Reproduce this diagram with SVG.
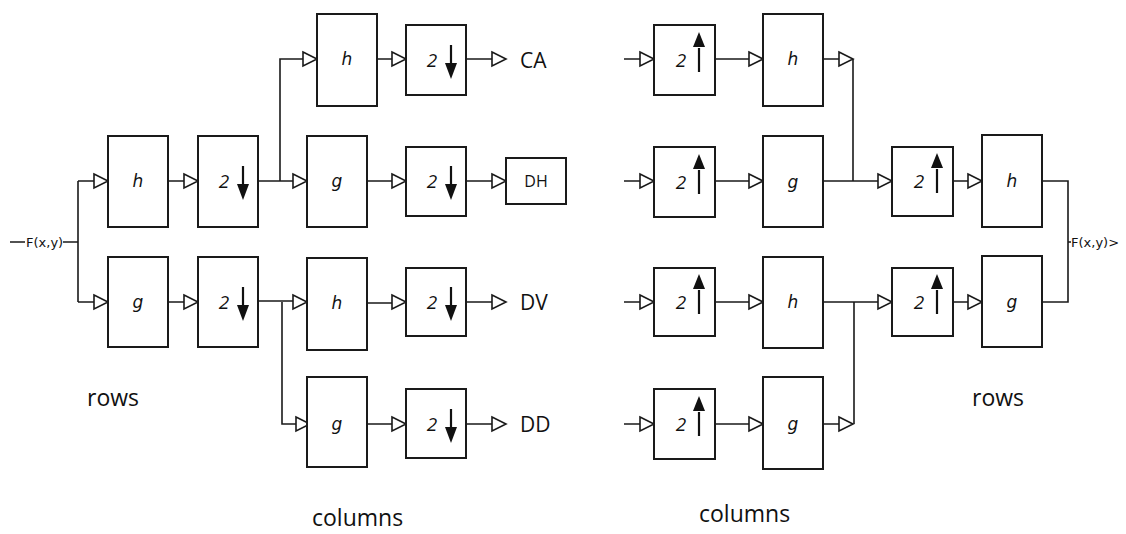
<svg xmlns="http://www.w3.org/2000/svg" width="1126" height="534" viewBox="0 0 1126 534">
  <style>
    .box { fill: #fff; stroke: #1a1a1a; stroke-width: 2; }
    .wire { fill: none; stroke: #1a1a1a; stroke-width: 1.6; }
    .tri { fill: #fff; stroke: #1a1a1a; stroke-width: 1.6; stroke-linejoin: miter; }
    .fn { font-family: "DejaVu Sans", sans-serif; font-style: italic; font-size: 17px; fill: #111; text-anchor: middle; dominant-baseline: central; }
    .two { font-family: "Open Sans", "DejaVu Sans", sans-serif; font-style: italic; font-size: 19px; fill: #111; text-anchor: middle; dominant-baseline: central; }
    .out { font-family: "Open Sans", "Liberation Sans", sans-serif; font-size: 21px; fill: #111; dominant-baseline: central; }
    .sig { font-family: "DejaVu Sans", sans-serif; font-size: 13px; fill: #111; dominant-baseline: central; }
    .cap { font-family: "Open Sans", "Liberation Sans", sans-serif; font-size: 23px; fill: #111; }
    .stem { stroke: #111; stroke-width: 2.2; }
    .head { fill: #111; }
  </style>
  <defs>
    <!-- open triangular input port, tip at origin -->
    <path id="tri" class="tri" d="M-14,-7 L0,0 L-14,7 Z"/>
    <!-- downsampling glyph: "2" and a down arrow, centred on origin -->
    <g id="down">
      <text class="two" x="-4" y="0">2</text>
      <line class="stem" x1="15" y1="-15" x2="15" y2="6"/>
      <path class="head" d="M9,3 L21,3 L15,19 Z"/>
    </g>
    <!-- upsampling glyph: "2" and an up arrow, centred on origin -->
    <g id="up">
      <text class="two" x="-3" y="0">2</text>
      <line class="stem" x1="15" y1="12" x2="15" y2="-12"/>
      <path class="head" d="M9,-13 L21,-13 L15,-28 Z"/>
    </g>
  </defs>

  <!-- ===== connectors ===== -->
  <g id="connectors">
    <!-- analysis side -->
    <path class="wire" d="M10,242 H25 M63,242 H78 M78,181 V302 M78,181 H94 M78,302 H94"/>
    <path class="wire" d="M168,181 H184 M168,302 H184"/>
    <path class="wire" d="M258,181 H293 M280,181 V59 H303"/>
    <path class="wire" d="M258,301 H293 M282,302 V424 H296"/>
    <path class="wire" d="M377,59 H392 M466,59 H492"/>
    <path class="wire" d="M367,181 H392 M466,181 H492"/>
    <path class="wire" d="M367,303 H392 M466,302 H492"/>
    <path class="wire" d="M367,424 H392 M466,424 H492"/>
    <use href="#tri" x="108" y="181"/>
    <use href="#tri" x="108" y="302"/>
    <use href="#tri" x="198" y="181"/>
    <use href="#tri" x="198" y="302"/>
    <use href="#tri" x="317" y="59"/>
    <use href="#tri" x="307" y="181"/>
    <use href="#tri" x="307" y="302"/>
    <use href="#tri" x="310" y="424"/>
    <use href="#tri" x="406" y="59"/>
    <use href="#tri" x="406" y="181"/>
    <use href="#tri" x="406" y="302"/>
    <use href="#tri" x="406" y="424"/>
    <use href="#tri" x="506" y="59"/>
    <use href="#tri" x="506" y="181"/>
    <use href="#tri" x="506" y="302"/>
    <use href="#tri" x="506" y="424"/>

    <!-- synthesis side -->
    <path class="wire" d="M624,59 H640 M624,181 H640 M624,302 H640 M624,424 H640"/>
    <path class="wire" d="M715,59 H749 M715,181 H749 M715,302 H749 M715,424 H749"/>
    <path class="wire" d="M823,59 H839 M853,59 V181 M823,181 H878"/>
    <path class="wire" d="M823,302 H878 M854,302 V424 M823,424 H839"/>
    <path class="wire" d="M953,181 H968 M953,302 H968"/>
    <path class="wire" d="M1042,181 H1068 V302 H1042 M1068,242 H1071"/>
    <use href="#tri" x="654" y="59"/>
    <use href="#tri" x="654" y="181"/>
    <use href="#tri" x="654" y="302"/>
    <use href="#tri" x="654" y="424"/>
    <use href="#tri" x="763" y="59"/>
    <use href="#tri" x="763" y="181"/>
    <use href="#tri" x="763" y="302"/>
    <use href="#tri" x="763" y="424"/>
    <use href="#tri" x="853" y="59"/>
    <use href="#tri" x="853" y="424"/>
    <use href="#tri" x="892" y="181"/>
    <use href="#tri" x="892" y="302"/>
    <use href="#tri" x="982" y="181"/>
    <use href="#tri" x="982" y="302"/>
  </g>

  <!-- ===== analysis (decomposition) nodes ===== -->
  <g id="a-in"><text class="sig" x="26" y="242">F(x,y)</text></g>
  <g id="a-rows-h"><rect class="box" x="108" y="136" width="60" height="91"/><text class="fn" x="138" y="181">h</text></g>
  <g id="a-rows-g"><rect class="box" x="108" y="257" width="60" height="90"/><text class="fn" x="138" y="302">g</text></g>
  <g id="a-rows-dh"><rect class="box" x="198" y="136" width="60" height="91"/><use href="#down" x="228" y="181"/></g>
  <g id="a-rows-dg"><rect class="box" x="198" y="257" width="60" height="90"/><use href="#down" x="228" y="302"/></g>

  <g id="a-col-hh"><rect class="box" x="317" y="14" width="60" height="92"/><text class="fn" x="347" y="59">h</text></g>
  <g id="a-col-hg"><rect class="box" x="307" y="136" width="60" height="91"/><text class="fn" x="337" y="181">g</text></g>
  <g id="a-col-gh"><rect class="box" x="307" y="258" width="60" height="92"/><text class="fn" x="337" y="303">h</text></g>
  <g id="a-col-gg"><rect class="box" x="307" y="377" width="60" height="90"/><text class="fn" x="337" y="424">g</text></g>

  <g id="a-d1"><rect class="box" x="406" y="25" width="60" height="70"/><use href="#down" x="436" y="60"/></g>
  <g id="a-d2"><rect class="box" x="406" y="147" width="60" height="69"/><use href="#down" x="436" y="181"/></g>
  <g id="a-d3"><rect class="box" x="406" y="268" width="60" height="68"/><use href="#down" x="436" y="302"/></g>
  <g id="a-d4"><rect class="box" x="406" y="389" width="60" height="69"/><use href="#down" x="436" y="424"/></g>

  <g id="out-ca"><text class="out" x="520" y="60">CA</text></g>
  <g id="out-dh"><rect class="box" x="506" y="158" width="60" height="46"/><text class="out" x="536" y="181" text-anchor="middle" style="font-size:16px">DH</text></g>
  <g id="out-dv"><text class="out" x="520" y="302">DV</text></g>
  <g id="out-dd"><text class="out" x="520" y="424">DD</text></g>

  <!-- ===== synthesis (reconstruction) nodes ===== -->
  <g id="s-u1"><rect class="box" x="654" y="25" width="61" height="70"/><use href="#up" x="684" y="60"/></g>
  <g id="s-u2"><rect class="box" x="654" y="147" width="61" height="70"/><use href="#up" x="684" y="182"/></g>
  <g id="s-u3"><rect class="box" x="654" y="268" width="61" height="68"/><use href="#up" x="684" y="302"/></g>
  <g id="s-u4"><rect class="box" x="654" y="389" width="61" height="70"/><use href="#up" x="684" y="424"/></g>

  <g id="s-col-h1"><rect class="box" x="763" y="14" width="60" height="92"/><text class="fn" x="793" y="59">h</text></g>
  <g id="s-col-g1"><rect class="box" x="763" y="136" width="60" height="91"/><text class="fn" x="793" y="182">g</text></g>
  <g id="s-col-h2"><rect class="box" x="763" y="257" width="60" height="91"/><text class="fn" x="793" y="302">h</text></g>
  <g id="s-col-g2"><rect class="box" x="763" y="377" width="60" height="92"/><text class="fn" x="793" y="424">g</text></g>

  <g id="s-rows-u1"><rect class="box" x="892" y="147" width="61" height="69"/><use href="#up" x="922" y="181"/></g>
  <g id="s-rows-u2"><rect class="box" x="892" y="268" width="61" height="68"/><use href="#up" x="922" y="302"/></g>
  <g id="s-rows-h"><rect class="box" x="982" y="135" width="60" height="92"/><text class="fn" x="1012" y="181">h</text></g>
  <g id="s-rows-g"><rect class="box" x="982" y="256" width="60" height="91"/><text class="fn" x="1012" y="302">g</text></g>
  <g id="s-out"><text class="sig" x="1071" y="242">F(x,y)&gt;</text></g>

  <!-- ===== stage captions ===== -->
  <text class="cap" x="87" y="406">rows</text>
  <text class="cap" x="312" y="526">columns</text>
  <text class="cap" x="699" y="522">columns</text>
  <text class="cap" x="972" y="406">rows</text>
</svg>
